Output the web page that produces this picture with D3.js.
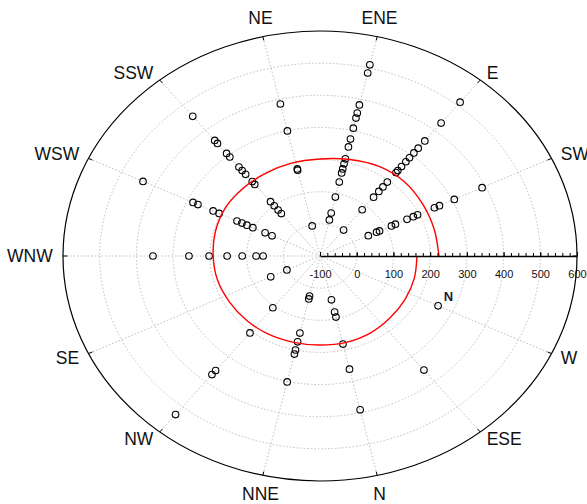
<!DOCTYPE html>
<html><head><meta charset="utf-8">
<script src="https://cdn.jsdelivr.net/npm/d3@7"></script>
<style>body{margin:0;background:#fff}svg{display:block}</style>
</head><body>
<svg id="chart" width="587" height="504"></svg>
<script>
// Rim labels, one per sector; 14 equal sectors counter-clockwise from the radial axis
const sectorLabels = ["", "SW", "E", "ENE", "NE", "SSW", "WSW", "WNW", "SE", "NW", "NNE", "N", "ESE", "W"];
// Radial scale labels
const radialTicks = [-100, 0, 100, 200, 300, 400, 500, 600];

// Observations: sector index and radial value
const pointSector = [
  1,1,1,1,1,1,1,1,1,1,1,1,
  2,2,2,2,2,2,2,2,2,2,2,2,2,2,2,2,
  3,3,3,3,3,3,3,3,3,3,3,3,3,3,3,3,
  4,4,4,4,4,
  5,5,5,5,5,5,5,5,5,5,5,5,5,5,
  6,6,6,6,6,6,6,6,6,6,6,
  7,7,7,7,7,7,7,
  8,8,
  9,9,9,9,9,
  10,10,10,10,10,10,10,
  11,11,11,11,11,11,
  12,
  13
];
const pointValue = [
  390,306,261,246,195,182,163,128,116,80,71,46,
  512,429,358,329,310,291,275,256,240,232,194,175,157,134,84,3,
  510,484,382,356,340,308,273,248,210,194,178,165,136,88,37,15,
  385,299,178,174,-4,
  456,360,348,308,294,254,240,225,196,185,116,100,83,69,
  435,284,269,223,205,151,136,121,103,66,45,
  355,257,202,153,112,74,55,
  0,49,
  106,206,356,372,531,
  28,37,146,174,200,213,302,
  40,79,95,181,261,391,
  354,
  257
];

// Fitted trend: angle in degrees, radial value
const fitAngle = [0,15,30,45,60,75,90,105,120,135,150,165,180,195,210,225,240,255,270,285,300,315,330,345,360];
const fitValue = [224,222,223,226,222,211,202,199,197,197,198,195,191,189,185,183,181,178,177,178,176,171,168,166,164];

// Annotation
const noteText = "N";
const noteAngle = 340;
const noteValue = 272;

const cx = 320, cy = 256, rx = 257, ry = 225;
const rMin = -100, rMax = 600;
const gridValues = [0, 100, 200, 300, 400, 500];
const font = "'Liberation Sans', Arial, Helvetica, sans-serif";

const svg = d3.select("#chart");
const rX = d3.scaleLinear().domain([rMin, rMax]).range([0, rx]);
const rY = d3.scaleLinear().domain([rMin, rMax]).range([0, ry]);
const nSec = sectorLabels.length;
const secAngle = i => i * 2 * Math.PI / nSec;
const toRad = d => d * Math.PI / 180;
const px = (a, v) => cx + rX(v) * Math.cos(a);
const py = (a, v) => cy - rY(v) * Math.sin(a);

// grid rings
svg.append("g").selectAll("ellipse").data(gridValues).join("ellipse")
  .attr("cx", cx).attr("cy", cy)
  .attr("rx", d => rX(d)).attr("ry", d => rY(d))
  .attr("fill", "none").attr("stroke", "#bdbdbd").attr("stroke-width", 1)
  .attr("stroke-dasharray", "1.5,2");

// spokes
svg.append("g").selectAll("line").data(d3.range(1, nSec)).join("line")
  .attr("x1", cx).attr("y1", cy)
  .attr("x2", i => px(secAngle(i), rMax)).attr("y2", i => py(secAngle(i), rMax))
  .attr("stroke", "#bdbdbd").attr("stroke-width", 1).attr("stroke-dasharray", "1.5,2");

// outer rim
svg.append("ellipse").attr("cx", cx).attr("cy", cy)
  .attr("rx", rX(rMax)).attr("ry", rY(rMax))
  .attr("fill", "none").attr("stroke", "#000").attr("stroke-width", 1.2);

// rim ticks
svg.append("g").selectAll("line").data(d3.range(nSec)).join("line")
  .attr("x1", i => px(secAngle(i), rMax)).attr("y1", i => py(secAngle(i), rMax))
  .attr("x2", i => px(secAngle(i), rMax - 12)).attr("y2", i => py(secAngle(i), rMax - 12))
  .attr("stroke", "#000").attr("stroke-width", 1);

// rim labels
const labelFactor = 1.04;
svg.append("g").selectAll("text").data(d3.range(nSec).filter(i => sectorLabels[i])).join("text")
  .each(function(i) {
    const a = secAngle(i), c = Math.cos(a), s = Math.sin(a);
    const x = cx + rx * labelFactor * c, y = cy - ry * labelFactor * s;
    const t = d3.select(this).attr("x", x);
    if (Math.abs(c) > 0.3) {
      t.attr("text-anchor", c > 0 ? "start" : "end").attr("y", y + 6);
    } else {
      t.attr("text-anchor", "middle").attr("y", s > 0 ? y - 4 : y + 16);
    }
  })
  .attr("font-family", font).attr("font-size", 17.5).attr("fill", "#111")
  .text(i => sectorLabels[i]);

// observations
svg.append("g").selectAll("circle").data(pointValue.map((v, i) => ({v, a: secAngle(pointSector[i])}))).join("circle")
  .attr("cx", d => px(d.a, d.v)).attr("cy", d => py(d.a, d.v)).attr("r", 3.3)
  .attr("fill", "none").attr("stroke", "#000").attr("stroke-width", 1.1);

// fitted trend
const fitLine = d3.line()
  .x(d => px(toRad(d[0]), d[1]))
  .y(d => py(toRad(d[0]), d[1]))
  .curve(d3.curveCatmullRom);
svg.append("path").datum(fitAngle.map((a, i) => [a, fitValue[i]]))
  .attr("d", fitLine).attr("fill", "none").attr("stroke", "#ff0000").attr("stroke-width", 1.4);

// radial axis
const axisScale = d3.scaleLinear().domain([rMin, rMax]).range([cx, cx + rx]);
const minorAxis = svg.append("g").attr("transform", `translate(0,${cy})`)
  .call(d3.axisBottom(axisScale).tickValues(d3.range(rMin, rMax + 1, 20)).tickSize(-3).tickSizeOuter(0).tickFormat(""));
minorAxis.select(".domain").remove();
minorAxis.selectAll("line").attr("stroke", "#000");
const majorAxis = svg.append("g").attr("transform", `translate(0,${cy})`)
  .call(d3.axisBottom(axisScale).tickValues(radialTicks).tickSize(-4).tickSizeOuter(0).tickPadding(14).tickFormat(d => String(d)));
majorAxis.select(".domain").attr("stroke", "#000").attr("stroke-width", 1.6);
majorAxis.selectAll("line").attr("stroke", "#000");
majorAxis.selectAll("text").attr("font-family", font).attr("font-size", 11).attr("fill", "#111");

// annotation
svg.append("text")
  .attr("x", px(toRad(noteAngle), noteValue)).attr("y", py(toRad(noteAngle), noteValue))
  .attr("text-anchor", "middle").attr("dy", "0.35em")
  .attr("font-family", font).attr("font-size", 13).attr("font-weight", "bold").attr("fill", "#1a1a3a")
  .text(noteText);
</script>
</body></html>
